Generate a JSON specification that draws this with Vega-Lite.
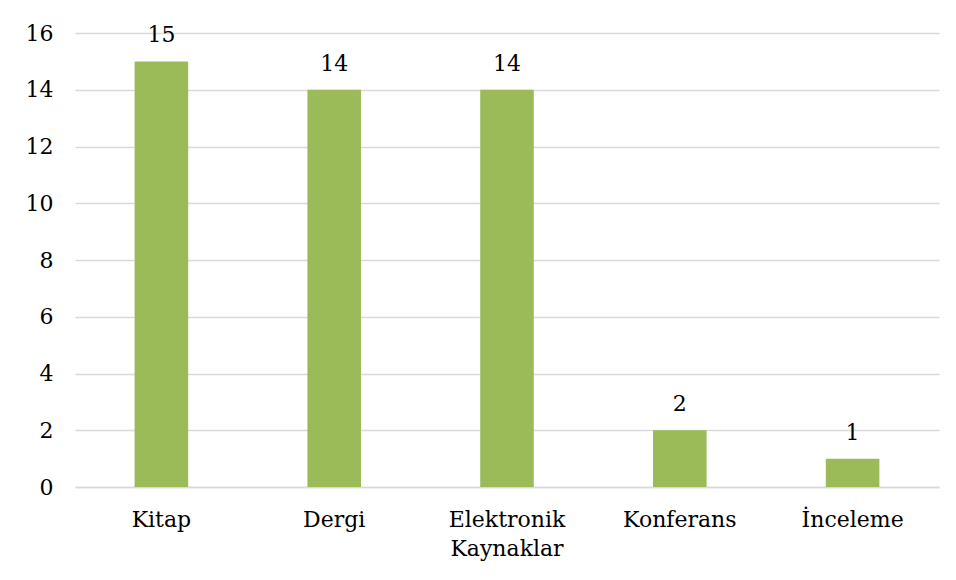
{
  "$schema": "https://vega.github.io/schema/vega-lite/v6.json",
  "width": 864,
  "height": 454,
  "autosize": {"type": "none"},
  "padding": {"left": 75, "top": 33, "right": 17, "bottom": 93},
  "background": "white",
  "config": {
    "view": {"stroke": null},
    "font": "DejaVu Serif",
    "axis": {"labelFont": "DejaVu Serif", "labelColor": "#000000", "labelFontSize": 22}
  },
  "data": {
    "values": [
      {"kategori": "Kitap", "sayi": 15},
      {"kategori": "Dergi", "sayi": 14},
      {"kategori": "Elektronik Kaynaklar", "sayi": 14},
      {"kategori": "Konferans", "sayi": 2},
      {"kategori": "İnceleme", "sayi": 1}
    ]
  },
  "encoding": {
    "x": {
      "field": "kategori",
      "type": "nominal",
      "sort": null,
      "scale": {"paddingInner": 0.69, "paddingOuter": 0.345},
      "axis": {
        "title": null,
        "labelAngle": 0,
        "ticks": false,
        "domainColor": "#D9D9D9",
        "domainWidth": 1.5,
        "labelPadding": 22,
        "labelExpr": "datum.value == 'Elektronik Kaynaklar' ? ['Elektronik', 'Kaynaklar'] : datum.value",
        "labelLineHeight": 29
      }
    },
    "y": {
      "field": "sayi",
      "type": "quantitative",
      "scale": {"domain": [0, 16]},
      "axis": {
        "title": null,
        "values": [0, 2, 4, 6, 8, 10, 12, 14, 16],
        "domain": false,
        "ticks": false,
        "gridColor": "#D9D9D9",
        "gridWidth": 1.5,
        "labelPadding": 22
      }
    }
  },
  "layer": [
    {"mark": {"type": "bar", "color": "#9BBB59"}},
    {
      "mark": {"type": "text", "baseline": "alphabetic", "dy": -19, "fontSize": 22, "color": "#000000", "font": "DejaVu Serif"},
      "encoding": {"text": {"field": "sayi", "type": "quantitative"}}
    }
  ]
}
